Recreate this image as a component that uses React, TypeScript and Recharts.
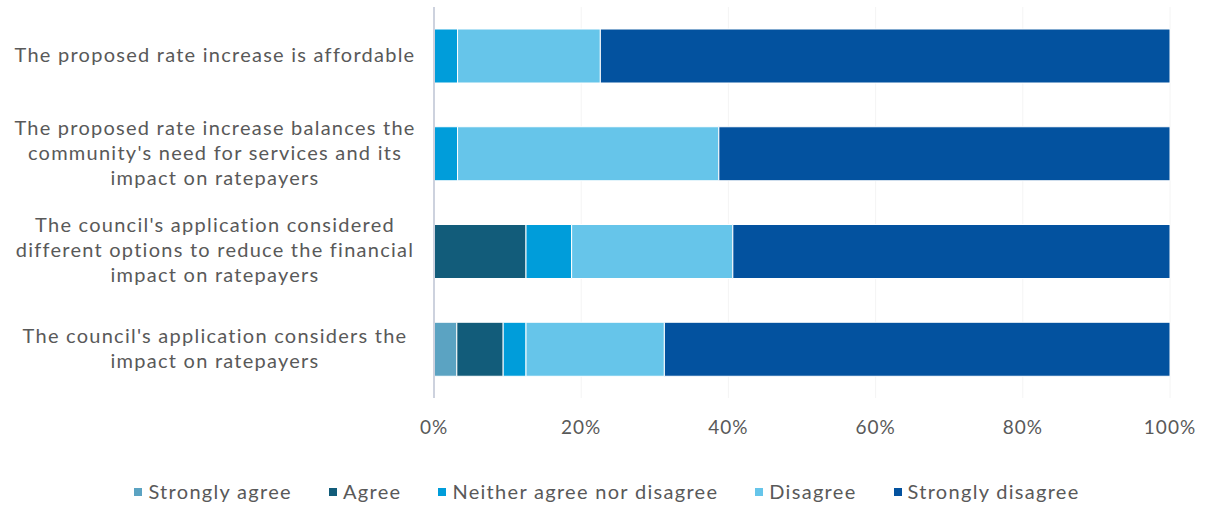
import React from 'react';
import { BarChart, Bar, XAxis, YAxis, CartesianGrid, Legend } from 'recharts';

const QUESTIONS = [
  'The proposed rate increase is affordable',
  "The proposed rate increase balances the\ncommunity's need for services and its\nimpact on ratepayers",
  "The council's application considered\ndifferent options to reduce the financial\nimpact on ratepayers",
  "The council's application considers the\nimpact on ratepayers",
];

const STRONGLY_AGREE = [0, 0, 0, 3.1];
const AGREE = [0, 0, 12.5, 6.3];
const NEITHER = [3.2, 3.2, 6.2, 3.1];
const DISAGREE = [19.4, 35.5, 21.9, 18.8];
const STRONGLY_DISAGREE = [77.4, 61.3, 59.4, 68.7];

const X_TICKS = [0, 20, 40, 60, 80, 100];

const SERIES = [
  { key: 'sa', name: 'Strongly agree', color: '#5BA3C2', values: STRONGLY_AGREE },
  { key: 'a', name: 'Agree', color: '#125C7A', values: AGREE },
  { key: 'n', name: 'Neither agree nor disagree', color: '#009DDA', values: NEITHER },
  { key: 'd', name: 'Disagree', color: '#66C5EA', values: DISAGREE },
  { key: 'sd', name: 'Strongly disagree', color: '#03529F', values: STRONGLY_DISAGREE },
];

const data = QUESTIONS.map((q, i) => {
  const row: Record<string, string | number> = { question: q };
  SERIES.forEach((s) => {
    row[s.key] = s.values[i];
  });
  return row;
});

const FONT = 'Lato, "Open Sans", sans-serif';
const TEXT = '#595959';

// question labels: centred block, one tspan per line
function QuestionTick(props: any) {
  const { y, payload } = props;
  const lines = String(payload.value).split('\n');
  const lineH = 25;
  const startY = y - 2 - ((lines.length - 1) * lineH) / 2;
  return (
    <text
      x={215}
      y={startY}
      textAnchor="middle"
      fill={TEXT}
      fontSize={20}
      letterSpacing={1.25}
      fontFamily={FONT}
      dominantBaseline="central"
    >
      {lines.map((l, i) => (
        <tspan key={i} x={215} y={startY + i * lineH}>
          {l}
        </tspan>
      ))}
    </text>
  );
}

function LegendContent() {
  return (
    <div
      style={{
        display: 'flex',
        justifyContent: 'center',
        gap: 37,
        fontFamily: FONT,
        fontSize: 20,
        lineHeight: '23px',
        letterSpacing: 1.3,
        color: TEXT,
        paddingLeft: 44,
      }}
    >
      {SERIES.map((s) => (
        <span key={s.key} style={{ display: 'flex', alignItems: 'center' }}>
          <span style={{ width: 8, height: 8, background: s.color, marginRight: 6, display: 'inline-block' }} />
          {s.name}
        </span>
      ))}
    </div>
  );
}

export default function App() {
  return (
    <div style={{ position: 'absolute', left: 0, top: 0, width: 1208, height: 509, background: '#fff' }}>
      <BarChart
        width={1208}
        height={509}
        data={data}
        layout="vertical"
        margin={{ top: 7, right: 38, left: 0, bottom: 6 }}
        barCategoryGap={22}
      >
        <CartesianGrid horizontal={false} stroke="#f4f4f4" />
        <XAxis
          type="number"
          domain={[0, 100]}
          ticks={X_TICKS}
          tickFormatter={(v) => `${v}%`}
          axisLine={false}
          tickLine={false}
          tick={{ fontSize: 19, fill: TEXT, fontFamily: FONT, letterSpacing: 1 }}
          tickMargin={17}
          height={82}
        />
        <YAxis
          type="category"
          dataKey="question"
          width={434}
          tick={<QuestionTick />}
          tickLine={false}
          axisLine={{ stroke: '#CDD2DE', strokeWidth: 2 }}
        />
        <Legend verticalAlign="bottom" height={23} content={<LegendContent />} />
        {SERIES.map((s) => (
          <Bar
            key={s.key}
            dataKey={s.key}
            name={s.name}
            stackId="a"
            fill={s.color}
            stroke="#ffffff"
            strokeWidth={1}
            isAnimationActive={false}
          />
        ))}
      </BarChart>
    </div>
  );
}
